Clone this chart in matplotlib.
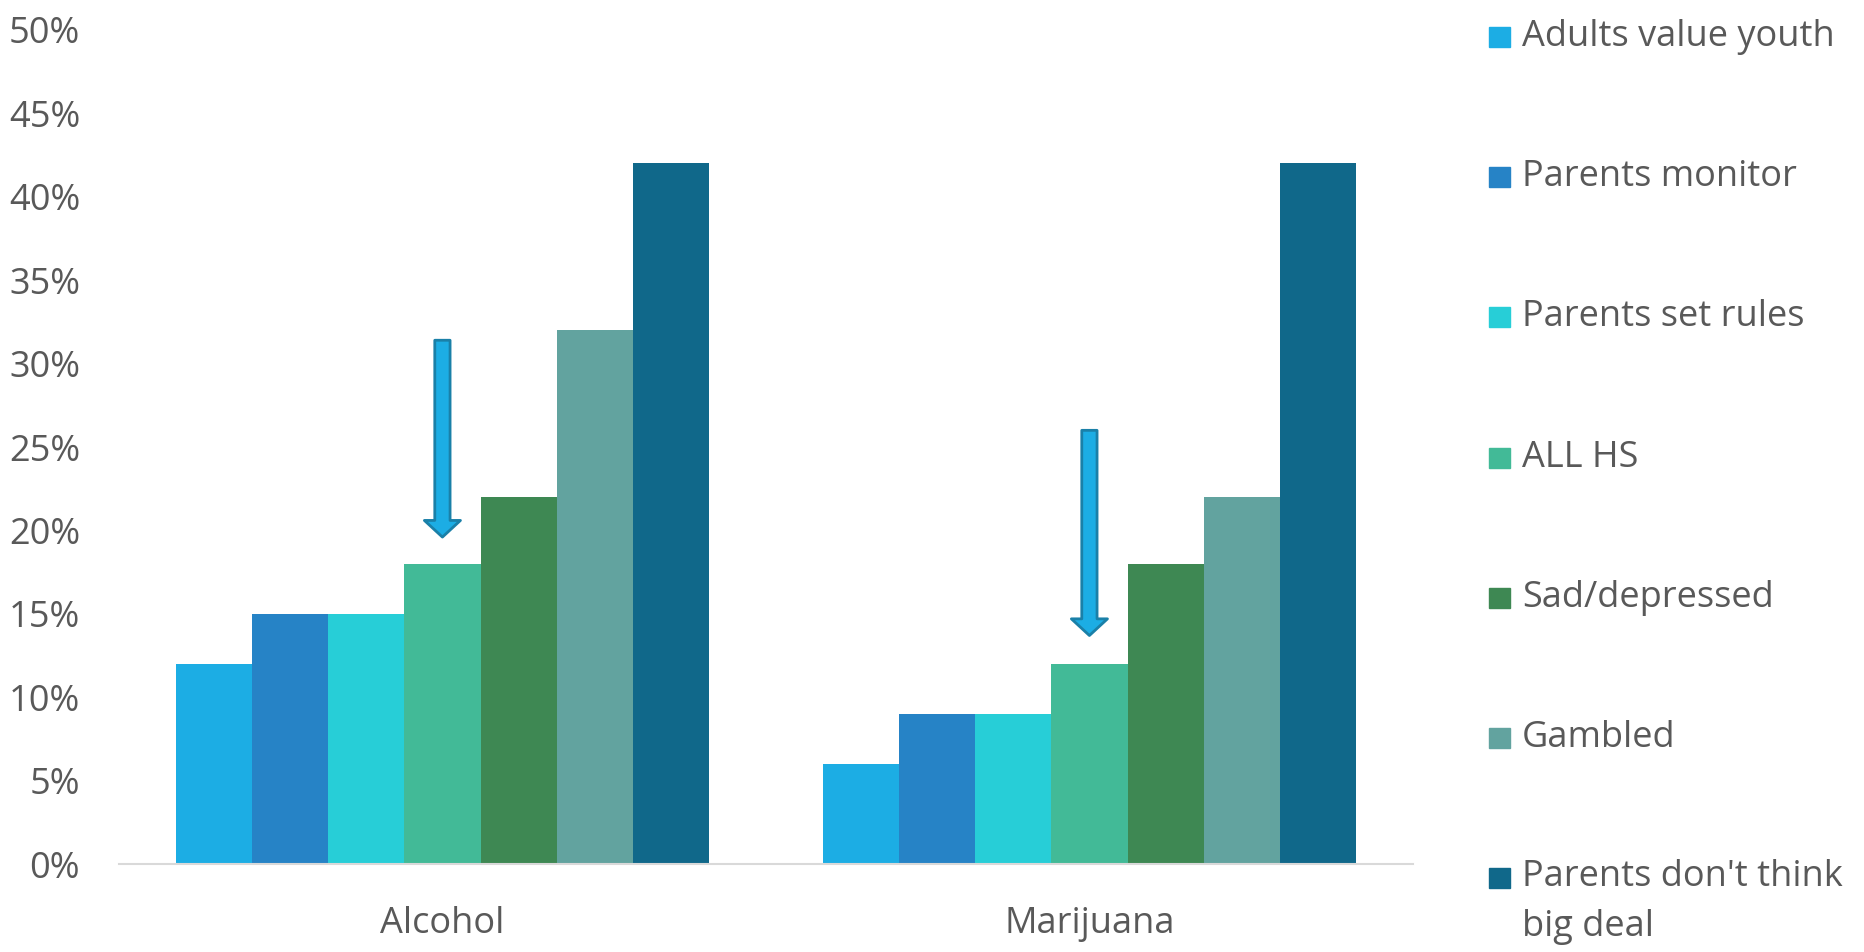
import matplotlib.pyplot as plt
import numpy as np
from matplotlib.patches import Rectangle

# --- data ---
categories = ["Alcohol", "Marijuana"]
series_names = ["Adults value youth", "Parents monitor", "Parents set rules", "ALL HS",
                "Sad/depressed", "Gambled", "Parents don't think\nbig deal"]
alcohol = [12, 15, 15, 18, 22, 32, 42]
marijuana = [6, 9, 9, 12, 18, 22, 42]
colors = ["#1CADE4", "#2683C6", "#27CED7", "#42BA97", "#3E8853", "#62A39F", "#10688A"]

# arrows pointing at the ALL HS bar: (category index, start %, end %)
arrow_x = [0, 1]
arrow_start = [31.4, 26.0]
arrow_end = [19.6, 13.7]

TEXT_COLOR = "#595959"
FS = 26
plt.rcParams['font.family'] = ['Open Sans', 'DejaVu Sans']

fig = plt.figure(figsize=(18.64, 9.52), dpi=100)
ax = fig.add_axes([0.0638, 0.0924, 0.6942, 0.8761])

values = np.array([alcohol, marijuana])
x = np.arange(len(categories))
n = len(series_names)
w = 0.825 / n
for i in range(n):
    ax.bar(x + (i - (n - 1) / 2) * w, values[:, i], width=w, color=colors[i], zorder=2)

for xa, ys, ye in zip(arrow_x, arrow_start, arrow_end):
    ax.annotate("", xy=(xa, ye), xytext=(xa, ys),
                arrowprops=dict(arrowstyle="simple,head_width=26,head_length=12,tail_width=11",
                                mutation_scale=1, shrinkA=0, shrinkB=0,
                                fc="#1CADE4", ec="#1A80A8", lw=2), zorder=3)

ax.set_xlim(-0.5, 1.5)
ax.set_ylim(0, 50)
ax.set_yticks(range(0, 51, 5))
ax.set_yticklabels([f"{v}%" for v in range(0, 51, 5)])
ax.set_xticks(x)
ax.set_xticklabels(categories)
ax.tick_params(axis='y', length=0, pad=28, labelsize=FS, labelcolor=TEXT_COLOR)
ax.tick_params(axis='x', length=0, pad=30, labelsize=FS, labelcolor=TEXT_COLOR)
for s in ["top", "right", "left"]:
    ax.spines[s].set_visible(False)
ax.spines["bottom"].set_color("#D9D9D9")
ax.spines["bottom"].set_linewidth(1.5)

# legend drawn by hand so the wrapped last entry keeps its swatch on the first line
W, H = 1864, 952
for i, (name, c) in enumerate(zip(series_names, colors)):
    yc = 37 + i * 140.2
    fig.add_artist(Rectangle((1489 / W, 1 - (yc + 10) / H), 21 / W, 20 / H,
                             transform=fig.transFigure, color=c))
    if "\n" in name:
        fig.text(1522 / W, 1 - (yc - 19) / H, name, ha="left", va="top",
                 fontsize=FS, color=TEXT_COLOR, linespacing=1.52)
    else:
        fig.text(1522 / W, 1 - yc / H, name, ha="left", va="center",
                 fontsize=FS, color=TEXT_COLOR)

fig.savefig("out.png", dpi=100)
